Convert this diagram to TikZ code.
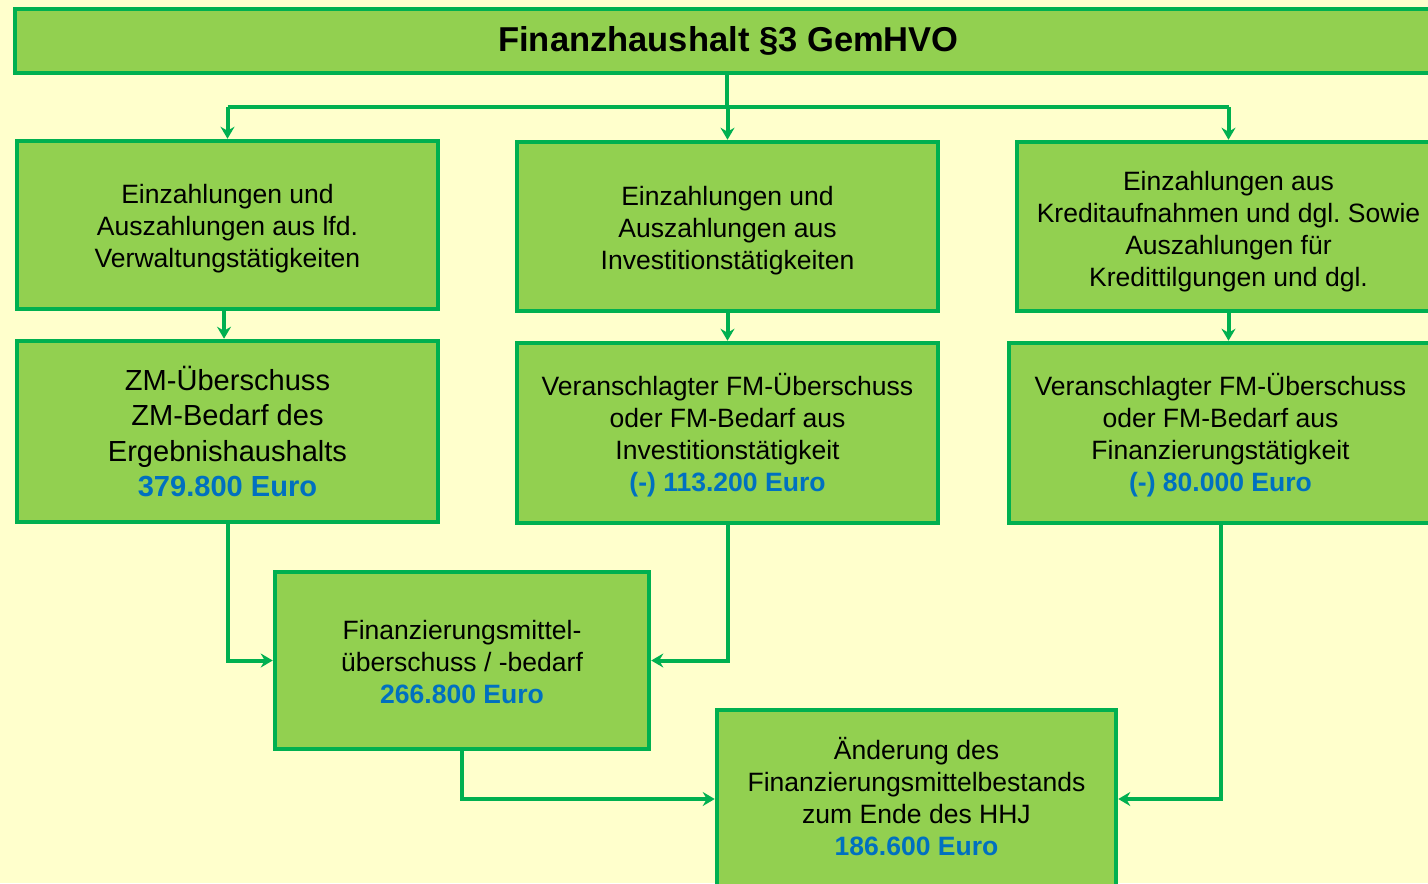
\documentclass[tikz,border=0pt]{standalone}
\usepackage{fontspec}
\setmainfont{Liberation Sans}
\usetikzlibrary{arrows.meta}
\frenchspacing
\definecolor{bgc}{HTML}{FFFFCC}
\definecolor{boxfill}{HTML}{92D050}
\definecolor{boxline}{HTML}{00B050}
\definecolor{valblue}{HTML}{0070C0}
\tikzset{
  box/.style={draw=boxline, fill=boxfill, line width=3.4pt, inner sep=0pt},
  txt/.style={inner sep=0pt, align=center, font=\fontsize{19.9pt}{24pt}\selectfont},
  bigtxt/.style={txt, font=\fontsize{21.8pt}{26.3pt}\selectfont},
  titletxt/.style={txt, font=\fontsize{25.9pt}{30pt}\selectfont\bfseries},
  conn/.style={draw=boxline, line width=3pt},
  arr/.style={conn, -{Stealth[length=9pt, width=10.5pt, inset=3pt]}},
}
\newcommand{\val}[1]{\textcolor{valblue}{\textbf{#1}}}
\begin{document}
\begin{tikzpicture}[x=0.75pt, y=-0.75pt]
\fill[bgc] (0,0) rectangle (1428,883);
\useasboundingbox (0,0) rectangle (1428,883);

% boxes
\node[box, minimum width=1070.25pt, minimum height=48pt] (T) at (728.5,41) {};
\node[box, minimum width=315.75pt, minimum height=126pt] (A1) at (227.5,225) {};
\node[box, minimum width=315.75pt, minimum height=126.75pt] (B1) at (727.5,226.5) {};
\node[box, minimum width=317.25pt, minimum height=126.75pt] (C1) at (1228.5,226.5) {};
\node[box, minimum width=315.75pt, minimum height=135.75pt] (A2) at (227.5,431.5) {};
\node[box, minimum width=315.75pt, minimum height=135pt] (B2) at (727.5,433) {};
\node[box, minimum width=317.25pt, minimum height=135pt] (C2) at (1220.5,433) {};
\node[box, minimum width=280.5pt, minimum height=132.75pt] (D) at (462,660.5) {};
\node[box, minimum width=299.25pt, minimum height=133.5pt] (E) at (916.5,799) {};

% texts
\node[titletxt] (Tt) at (T.center) {Finanzhaushalt §3 GemHVO};
\node[txt, yshift=-3pt] (A1t) at (A1.center)
  {Einzahlungen und\\Auszahlungen aus lfd.\\Verwaltungstätigkeiten};
\node[txt, yshift=-3pt] (B1t) at (B1.center)
  {Einzahlungen und\\Auszahlungen aus\\Investitionstätigkeiten};
\node[txt, yshift=-3.5pt] (C1t) at (C1.center)
  {Einzahlungen aus\\Kreditaufnahmen und dgl. Sowie\\Auszahlungen für\\Kredittilgungen und dgl.};
\node[bigtxt] (A2t) at (A2.center)
  {ZM-Überschuss\\ZM-Bedarf des\\Ergebnishaushalts\\\val{379.800 Euro}};
\node[txt, yshift=-1.5pt] (B2t) at (B2.center)
  {Veranschlagter FM-Überschuss\\oder FM-Bedarf aus\\Investitionstätigkeit\\\val{(-) 113.200 Euro}};
\node[txt, yshift=-1.5pt] (C2t) at (C2.center)
  {Veranschlagter FM-Überschuss\\oder FM-Bedarf aus\\Finanzierungstätigkeit\\\val{(-) 80.000 Euro}};
\node[txt, yshift=-1.5pt] (Dt) at (D.center)
  {Finanzierungsmittel-\\überschuss / -bedarf\\\val{266.800 Euro}};
\node[txt, yshift=1.5pt] (Et) at (E.center)
  {Änderung des\\Finanzierungsmittelbestands\\zum Ende des HHJ\\\val{186.600 Euro}};

% connectors
\coordinate (bus) at (727,107);
\draw[conn] (T.south -| bus) -- (bus);
\draw[conn] (A1.north |- bus) -- (C1.north |- bus);
\draw[arr] (A1.north |- bus) -- (A1.north);
\draw[arr] (B1.north |- bus) -- (B1.north);
\draw[arr] (C1.north |- bus) -- (C1.north);

\draw[arr] ([xshift=-2.6pt]A1.south) -- ([xshift=-2.6pt]A2.north);
\draw[arr] (B1.south) -- (B2.north);
\draw[arr] (C1.south) -- (C1.south |- C2.north);

\draw[arr] (A2.south) |- (D.west);
\draw[arr] (B2.south) |- (D.east);
\draw[arr] (D.south) |- (E.west);
\draw[arr] (C2.south) |- (E.east);
\end{tikzpicture}
\end{document}
